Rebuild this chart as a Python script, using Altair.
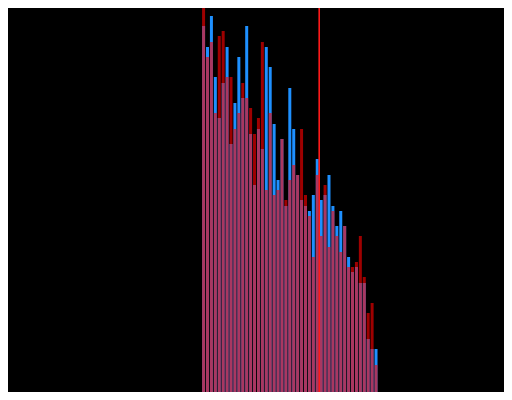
import altair as alt
import pandas as pd

# bin index of each bar
bins = list(range(45))
# heights of the blue series (bars drawn first, opaque)
blue_vals = [374, 353, 384, 323, 282, 317, 353, 256, 297, 343, 302, 374, 266, 215, 271,
             251, 353, 333, 276, 220, 261, 194, 312, 271, 225, 200, 194, 189, 205, 241,
             200, 205, 225, 194, 174, 189, 174, 143, 128, 133, 117, 117, 61, 51, 51]
# heights of the red series (drawn on top, translucent)
red_vals = [410, 343, 358, 287, 364, 369, 323, 323, 271, 287, 317, 302, 292, 266, 282,
            358, 210, 287, 205, 210, 261, 200, 220, 235, 225, 271, 205, 184, 143, 225,
            164, 215, 153, 189, 164, 148, 174, 133, 133, 138, 164, 123, 87, 97, 35]
# position of the vertical marker line
marker = [29.5]

df = pd.DataFrame({"bin": bins, "blue": blue_vals, "red": red_vals})
mk = pd.DataFrame({"x": marker})

xs = alt.Scale(domain=[-48.625, 75.375], nice=False, zero=False)
ys = alt.Scale(domain=[8, 392], nice=False, zero=False)

base = alt.Chart(df)
blue = base.mark_bar(color="#1E90FF", size=3, clip=True).encode(
    x=alt.X("bin:Q", scale=xs, axis=None),
    y=alt.Y("blue:Q", scale=ys, axis=None),
)
red = base.mark_bar(color="#FF0000", opacity=0.62, size=3, clip=True).encode(
    x=alt.X("bin:Q", scale=xs, axis=None),
    y=alt.Y("red:Q", scale=ys, axis=None),
)
line = alt.Chart(mk).mark_rule(color="#FF1A1A", strokeWidth=1.6).encode(
    x=alt.X("x:Q", scale=xs, axis=None),
)

chart = (blue + red + line).properties(
    width=496, height=384, background="black", padding=0,
    autosize=alt.AutoSizeParams(type="none"),
).configure_view(stroke=None)

chart.save("out.html", embed_options={"renderer": "svg", "actions": False})
